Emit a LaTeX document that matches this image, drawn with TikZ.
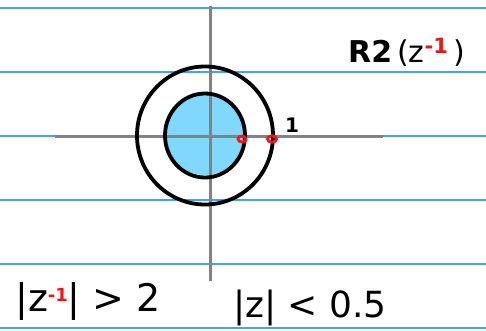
\documentclass[tikz,border=0pt]{standalone}
\usepackage{fontspec}
\setmainfont{DejaVu Sans}
\definecolor{ruleblue}{RGB}{70,160,250}
\definecolor{axisgray}{RGB}{130,130,130}
\definecolor{regionblue}{RGB}{128,216,255}
\definecolor{pointred}{RGB}{240,20,20}
\tikzset{
  rule/.style={draw=ruleblue, line width=1.4pt},
  axisline/.style={draw=axisgray, line width=3pt},
  ringline/.style={draw=black, line width=3.8pt},
  pointmark/.style={draw=pointred, line width=2.8pt},
  hand/.style={inner sep=0pt, anchor=west, text=black},
}
\begin{document}
\begin{tikzpicture}[x=1pt,y=-1pt]
\useasboundingbox[fill=white] (0,0) rectangle (486,330);
% ruled lines
\foreach \yy in {8,72,136,200,264,328} {
  \draw[rule] (0,\yy) -- (486,\yy);
}
% region fill
\fill[regionblue] (205,134) circle[radius=41];
% axes
\coordinate (xl) at (55,136);
\coordinate (xr) at (383,136);
\coordinate (yt) at (210,6);
\coordinate (yb) at (210,281);
\draw[axisline] (xl) -- (xr);
\draw[axisline] (yt) -- (yb);
% circles
\coordinate (c) at (205,135.5);
\draw[ringline] (c) ellipse[x radius=68, y radius=69];
\draw[ringline] (c) ellipse[x radius=40, y radius=42];
% red points
\draw[pointmark] (242,139) ellipse[x radius=4, y radius=3];
\draw[pointmark] (272,139) ellipse[x radius=4.5, y radius=3.2];
% labels
\node[hand, font=\bfseries\fontsize{20}{20}\selectfont] (one) at (285,125) {1};
\node[hand, font=\fontsize{30}{30}\selectfont] (roc) at (348,52) {\textbf{R2}\,(z\textsuperscript{\color{pointred}\textbf{-1}}\,)};
\node[hand, font=\fontsize{38}{38}\selectfont] (cond1) at (15,301) {|z\raisebox{10pt}{\color{pointred}\fontsize{18}{18}\selectfont\bfseries -1}| > 2};
\node[hand, font=\fontsize{36}{36}\selectfont] (cond2) at (233,308) {|z| < 0.5};
\end{tikzpicture}
\end{document}
